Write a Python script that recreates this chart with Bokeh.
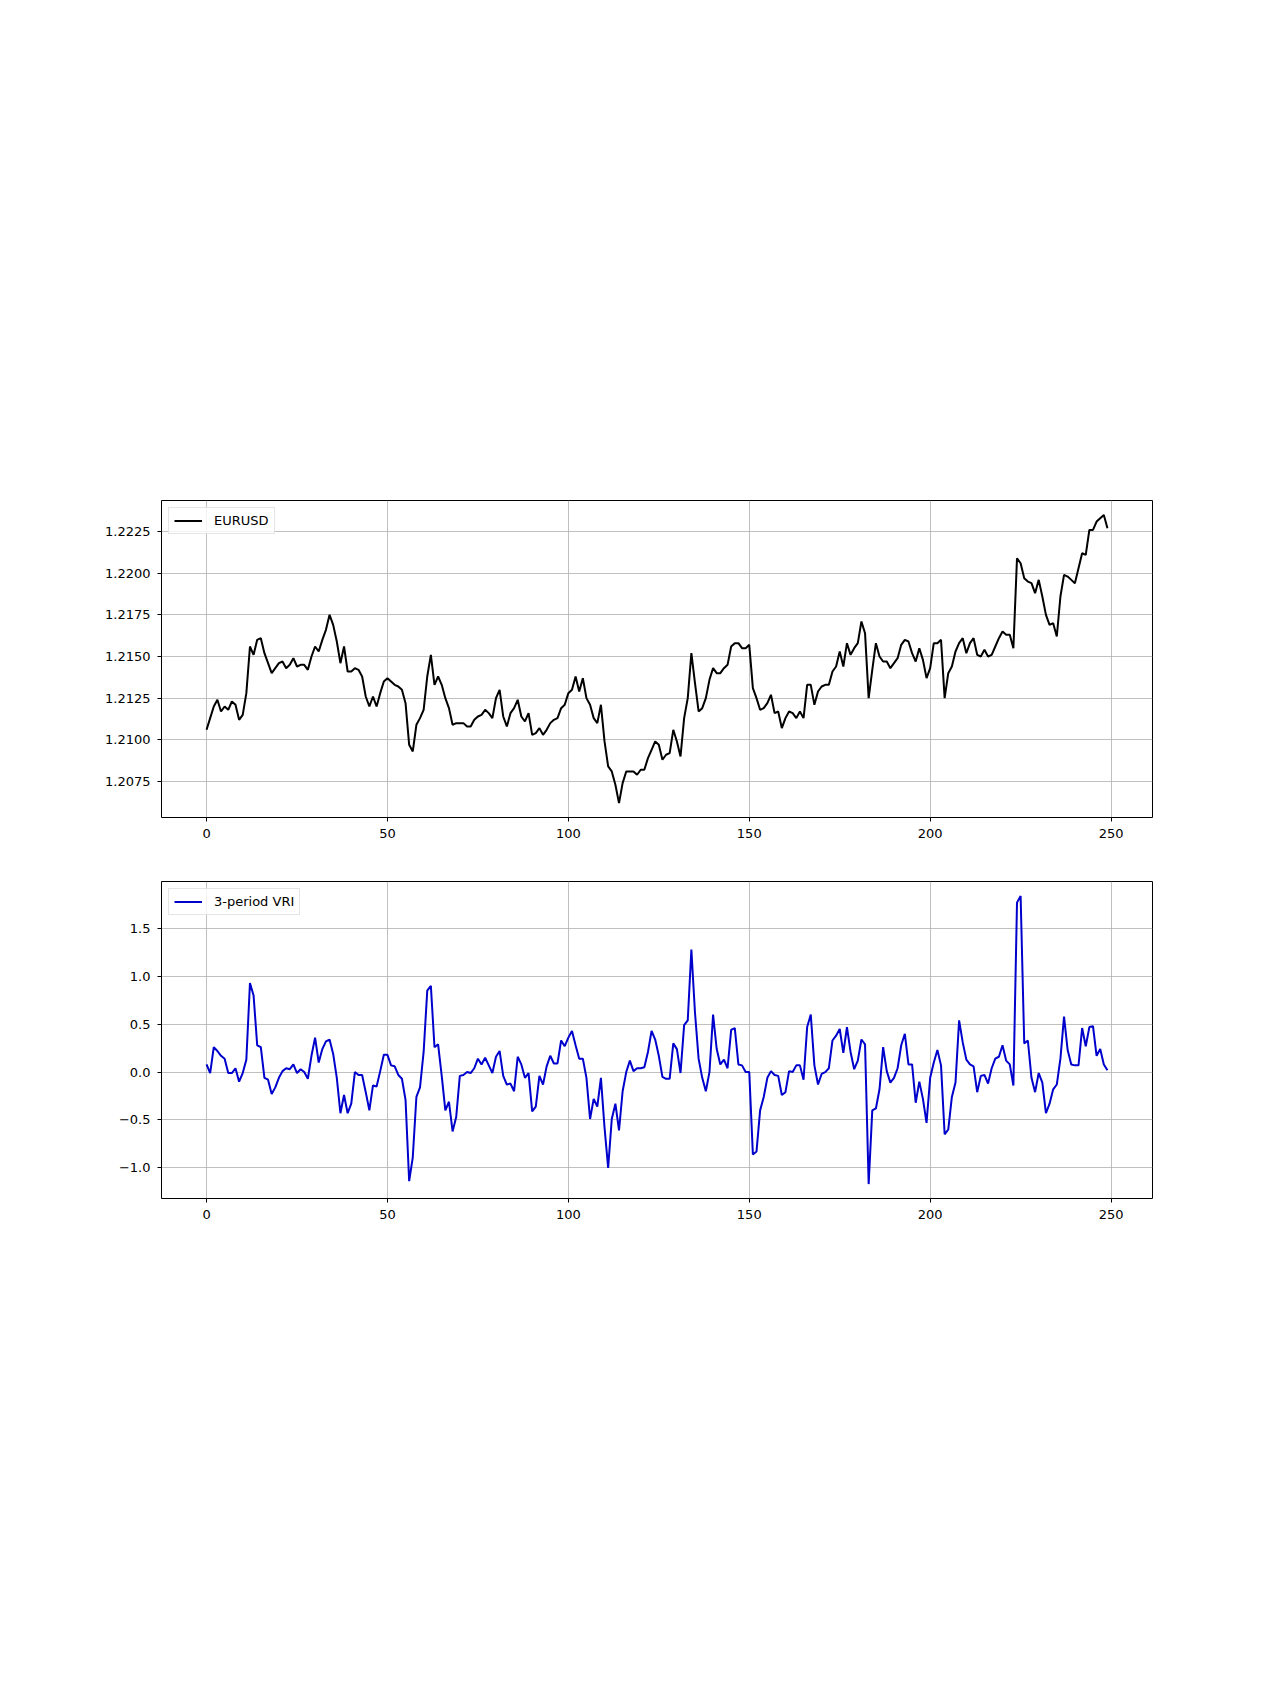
from bokeh.plotting import figure
from bokeh.layouts import column
from bokeh.models import Range1d, FixedTicker
from bokeh.embed import file_html
from bokeh.resources import INLINE

# ---------------- data ----------------
x_vals = list(range(250))

eurusd = [
    1.2106, 1.2113, 1.2120, 1.2124, 1.2117, 1.2120, 1.2118, 1.2123, 1.2121, 1.2112,
    1.2115, 1.2128, 1.2156, 1.2151, 1.2160, 1.2161, 1.2152, 1.2146, 1.2140, 1.2143,
    1.2146, 1.2147, 1.2143, 1.2145, 1.2149, 1.2144, 1.2145, 1.2145, 1.2142, 1.2150,
    1.2156, 1.2153, 1.2160, 1.2166, 1.2175, 1.2169, 1.2159, 1.2146, 1.2156, 1.2141,
    1.2141, 1.2143, 1.2142, 1.2138, 1.2126, 1.2120, 1.2126, 1.2120, 1.2128, 1.2135,
    1.2137, 1.2135, 1.2133, 1.2132, 1.2130, 1.2122, 1.2097, 1.2093, 1.2109, 1.2113,
    1.2118, 1.2138, 1.2151, 1.2133, 1.2138, 1.2133, 1.2125, 1.2119, 1.2109, 1.2110,
    1.2110, 1.2110, 1.2108, 1.2108, 1.2112, 1.2114, 1.2115, 1.2118, 1.2116, 1.2113,
    1.2125, 1.2130, 1.2114, 1.2108, 1.2116, 1.2119, 1.2124, 1.2114, 1.2111, 1.2116,
    1.2103, 1.2104, 1.2107, 1.2103, 1.2106, 1.2110, 1.2112, 1.2113, 1.2119, 1.2121,
    1.2128, 1.2130, 1.2138, 1.2129, 1.2137, 1.2125, 1.2121, 1.2113, 1.2110, 1.2121,
    1.2099, 1.2084, 1.2081, 1.2073, 1.2062, 1.2074, 1.2081, 1.2081, 1.2081, 1.2079,
    1.2082, 1.2082, 1.2089, 1.2094, 1.2099, 1.2097, 1.2088, 1.2091, 1.2092, 1.2106,
    1.2099, 1.2090, 1.2113, 1.2125, 1.2152, 1.2134, 1.2117, 1.2119, 1.2125, 1.2136,
    1.2143, 1.2140, 1.2140, 1.2143, 1.2145, 1.2156, 1.2158, 1.2158, 1.2155, 1.2155,
    1.2157, 1.2131, 1.2125, 1.2118, 1.2119, 1.2122, 1.2127, 1.2116, 1.2117, 1.2107,
    1.2113, 1.2117, 1.2116, 1.2113, 1.2117, 1.2113, 1.2133, 1.2133, 1.2121, 1.2129,
    1.2132, 1.2133, 1.2133, 1.2141, 1.2144, 1.2153, 1.2144, 1.2158, 1.2151, 1.2155,
    1.2158, 1.2171, 1.2164, 1.2125, 1.2142, 1.2158, 1.2150, 1.2147, 1.2147, 1.2143,
    1.2146, 1.2149, 1.2157, 1.2160, 1.2159, 1.2152, 1.2147, 1.2155, 1.2148, 1.2137,
    1.2143, 1.2158, 1.2158, 1.2160, 1.2125, 1.2140, 1.2144, 1.2153, 1.2158, 1.2161,
    1.2152, 1.2158, 1.2161, 1.2151, 1.2150, 1.2154, 1.2150, 1.2151, 1.2156, 1.2161,
    1.2165, 1.2163, 1.2163, 1.2155, 1.2209, 1.2206, 1.2197, 1.2195, 1.2194, 1.2188,
    1.2196, 1.2186, 1.2175, 1.2169, 1.2170, 1.2162, 1.2186, 1.2199, 1.2198, 1.2196,
    1.2194, 1.2203, 1.2212, 1.2211, 1.2226, 1.2226, 1.2231, 1.2233, 1.2235, 1.2227,
]

vri = [
    0.08, -0.01, 0.26, 0.22, 0.17, 0.14, -0.01, -0.01, 0.04, -0.10,
    -0.01, 0.13, 0.93, 0.80, 0.28, 0.26, -0.06, -0.08, -0.23, -0.16,
    -0.06, 0.01, 0.04, 0.03, 0.08, -0.01, 0.03, 0.00, -0.07, 0.17,
    0.36, 0.10, 0.24, 0.32, 0.34, 0.19, -0.06, -0.43, -0.24, -0.43,
    -0.33, 0.00, -0.03, -0.03, -0.21, -0.40, -0.14, -0.15, 0.01, 0.18,
    0.18, 0.07, 0.06, -0.03, -0.07, -0.29, -1.14, -0.89, -0.26, -0.16,
    0.21, 0.85, 0.90, 0.26, 0.29, -0.04, -0.40, -0.31, -0.62, -0.47,
    -0.04, -0.03, 0.00, -0.01, 0.04, 0.14, 0.08, 0.15, 0.07, -0.01,
    0.16, 0.22, -0.04, -0.13, -0.12, -0.20, 0.16, 0.08, -0.06, -0.01,
    -0.41, -0.36, -0.04, -0.13, 0.06, 0.17, 0.09, 0.09, 0.33, 0.27,
    0.36, 0.43, 0.28, 0.14, 0.14, -0.06, -0.49, -0.28, -0.36, -0.06,
    -0.58, -1.00, -0.49, -0.33, -0.61, -0.20, 0.00, 0.12, 0.01, 0.04,
    0.04, 0.05, 0.21, 0.43, 0.34, 0.17, -0.05, -0.07, -0.07, 0.30,
    0.24, -0.01, 0.49, 0.54, 1.28, 0.62, 0.14, -0.06, -0.20, 0.00,
    0.60, 0.24, 0.08, 0.13, 0.04, 0.44, 0.46, 0.08, 0.07, 0.00,
    0.00, -0.86, -0.83, -0.40, -0.26, -0.06, 0.01, -0.03, -0.04, -0.24,
    -0.21, 0.01, 0.00, 0.07, 0.07, -0.08, 0.47, 0.60, 0.07, -0.13,
    -0.02, 0.00, 0.04, 0.33, 0.38, 0.45, 0.20, 0.47, 0.21, 0.03,
    0.12, 0.34, 0.29, -1.17, -0.40, -0.38, -0.18, 0.26, 0.01, -0.11,
    -0.06, 0.04, 0.28, 0.40, 0.08, 0.08, -0.32, -0.10, -0.28, -0.53,
    -0.06, 0.10, 0.23, 0.07, -0.65, -0.60, -0.26, -0.11, 0.54, 0.31,
    0.13, 0.08, 0.06, -0.21, -0.04, -0.03, -0.12, 0.04, 0.14, 0.16,
    0.28, 0.12, 0.08, -0.14, 1.77, 1.84, 0.30, 0.33, -0.06, -0.21,
    -0.01, -0.11, -0.43, -0.33, -0.18, -0.13, 0.14, 0.58, 0.23, 0.08,
    0.07, 0.07, 0.46, 0.27, 0.47, 0.48, 0.17, 0.24, 0.08, 0.02,
]

x_ticks = [0, 50, 100, 150, 200, 250]
top_ticks = [1.2075, 1.2100, 1.2125, 1.2150, 1.2175, 1.2200, 1.2225]
top_tick_labels = ["1.2075", "1.2100", "1.2125", "1.2150", "1.2175", "1.2200", "1.2225"]
bot_ticks = [-1.0, -0.5, 0.0, 0.5, 1.0, 1.5]
bot_tick_labels = ["\u22121.0", "\u22120.5", "0.0", "0.5", "1.0", "1.5"]

FONT = "DejaVu Sans"


def padded(vals, frac=0.05):
    lo, hi = min(vals), max(vals)
    d = (hi - lo) * frac
    return lo - d, hi + d


def style(p, yticks, ylabels):
    p.background_fill_color = "white"
    p.border_fill_color = "white"
    p.outline_line_color = "black"
    p.outline_line_width = 1
    for ax in (p.xaxis[0], p.yaxis[0]):
        ax.axis_line_color = None
        ax.major_tick_line_color = "black"
        ax.major_tick_out = 4
        ax.major_tick_in = 0
        ax.minor_tick_line_color = None
        ax.major_label_text_font = FONT
        ax.major_label_text_font_size = "13px"
        ax.major_label_text_color = "black"
        ax.major_label_standoff = 7
    p.xaxis[0].ticker = FixedTicker(ticks=x_ticks)
    p.yaxis[0].ticker = FixedTicker(ticks=yticks)
    p.yaxis[0].major_label_overrides = {t: l for t, l in zip(yticks, ylabels)}
    p.xgrid[0].ticker = FixedTicker(ticks=x_ticks)
    p.ygrid[0].ticker = FixedTicker(ticks=yticks)
    for g in (p.xgrid[0], p.ygrid[0]):
        g.grid_line_color = "#b0b0b0"
        g.grid_line_width = 0.8
    lg = p.legend[0]
    lg.location = "top_left"
    lg.margin = 7
    lg.padding = 5
    lg.spacing = 0
    lg.label_standoff = 12
    lg.glyph_width = 28
    lg.glyph_height = 15
    lg.label_height = 15
    lg.label_text_font = FONT
    lg.label_text_font_size = "13px"
    lg.label_text_color = "black"
    lg.border_line_color = "#cccccc"
    lg.border_line_width = 1
    lg.background_fill_alpha = 0.8


xr_lo, xr_hi = padded(x_vals)

p1 = figure(frame_width=991, frame_height=317,
            min_border_left=161, min_border_right=91,
            min_border_top=500, min_border_bottom=54,
            x_range=Range1d(xr_lo, xr_hi), y_range=Range1d(*padded(eurusd)),
            output_backend="svg", toolbar_location=None)
p1.line(x_vals, eurusd, line_color="black", line_width=2, legend_label="EURUSD")
style(p1, top_ticks, top_tick_labels)

p2 = figure(frame_width=991, frame_height=317,
            min_border_left=161, min_border_right=91,
            min_border_top=10, min_border_bottom=50,
            x_range=Range1d(xr_lo, xr_hi), y_range=Range1d(*padded(vri)),
            output_backend="svg", toolbar_location=None)
p2.line(x_vals, vri, line_color="#0000cd", line_width=2, legend_label="3-period VRI")
style(p2, bot_ticks, bot_tick_labels)

layout = column(p1, p2, spacing=0)

open("out.html", "w").write(file_html(layout, INLINE))
